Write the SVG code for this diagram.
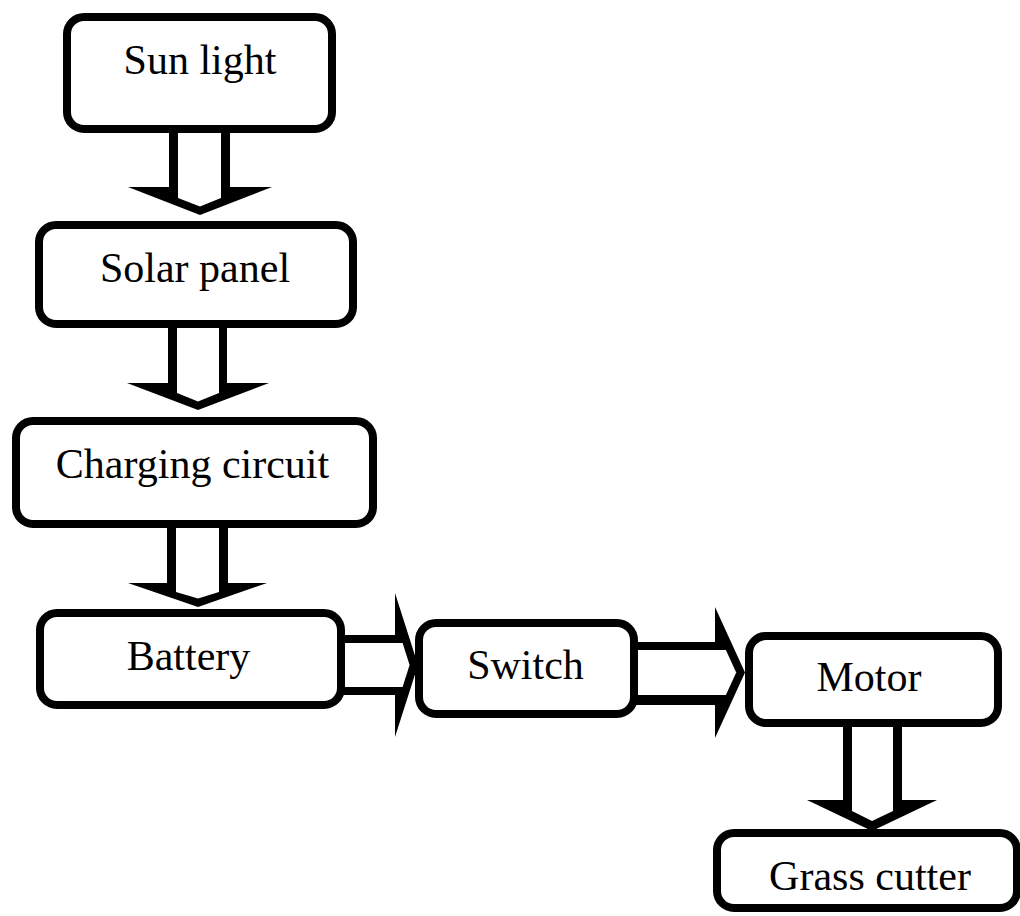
<svg xmlns="http://www.w3.org/2000/svg" width="1020" height="916" viewBox="0 0 1020 916">
<style>
.box{fill:#fff;stroke:#000;stroke-width:8}
.lbl{font-family:"Liberation Serif","Times New Roman",serif;font-size:42px;fill:#000;text-anchor:middle}
.ao{fill:#000}
.ai{fill:#fff}
</style>
<rect width="1020" height="916" fill="#fff"/>
<g id="connectors">
  <!-- Sun light -> Solar panel -->
  <polygon class="ao" points="169,130 169,187 128,187 200,215 272,187 230,187 230,130"/>
  <polygon class="ai" points="178,130 178,198 200,206.5 221,198 221,130"/>
  <!-- Solar panel -> Charging circuit -->
  <polygon class="ao" points="168,324 168,383 127,383 198,410 269,383 227,383 227,324"/>
  <polygon class="ai" points="177,324 177,393 198,401.5 219,393 219,324"/>
  <!-- Charging circuit -> Battery -->
  <polygon class="ao" points="167,524 167,583 128,583 198,607 267,583 228,583 228,524"/>
  <polygon class="ai" points="176,524 176,592 198,598.5 219,592 219,524"/>
  <!-- Battery -> Switch -->
  <polygon class="ao" points="341,635 395,635 395,593 418,665 395,737 395,695 341,695"/>
  <polygon class="ai" points="341,643 402.6,643 409.6,665 402.6,687 341,687"/>
  <!-- Switch -> Motor -->
  <polygon class="ao" points="634,642 715,642 715,607 745,672.5 715,738 715,705 634,705"/>
  <polygon class="ai" points="634,650 725.9,650 736.2,672.5 725.9,695 634,695"/>
  <!-- Motor -> Grass cutter -->
  <polygon class="ao" points="843,723 843,800 807,800 872,831 937,800 902,800 902,723"/>
  <polygon class="ai" points="852,723 852,811 872,821 893,811 893,723"/>
</g>
<g id="sun-light">
  <rect class="box" x="67" y="17" width="265" height="112" rx="17"/>
  <text class="lbl" x="200" y="74">Sun light</text>
</g>
<g id="solar-panel">
  <rect class="box" x="39" y="225" width="314" height="99" rx="17"/>
  <text class="lbl" x="195" y="282">Solar panel</text>
</g>
<g id="charging-circuit">
  <rect class="box" x="16" y="421" width="357" height="103" rx="17"/>
  <text class="lbl" x="192.5" y="478">Charging circuit</text>
</g>
<g id="battery">
  <rect class="box" x="40" y="613" width="301" height="92" rx="17"/>
  <text class="lbl" x="188.5" y="670">Battery</text>
</g>
<g id="switch">
  <rect class="box" x="419" y="623" width="215" height="91" rx="17"/>
  <text class="lbl" x="525.5" y="679">Switch</text>
</g>
<g id="motor">
  <rect class="box" x="749" y="636" width="249" height="87" rx="17"/>
  <text class="lbl" x="869" y="691">Motor</text>
</g>
<g id="grass-cutter">
  <rect class="box" x="717" y="833" width="300" height="75" rx="17"/>
  <text class="lbl" x="870" y="890">Grass cutter</text>
</g>
</svg>
